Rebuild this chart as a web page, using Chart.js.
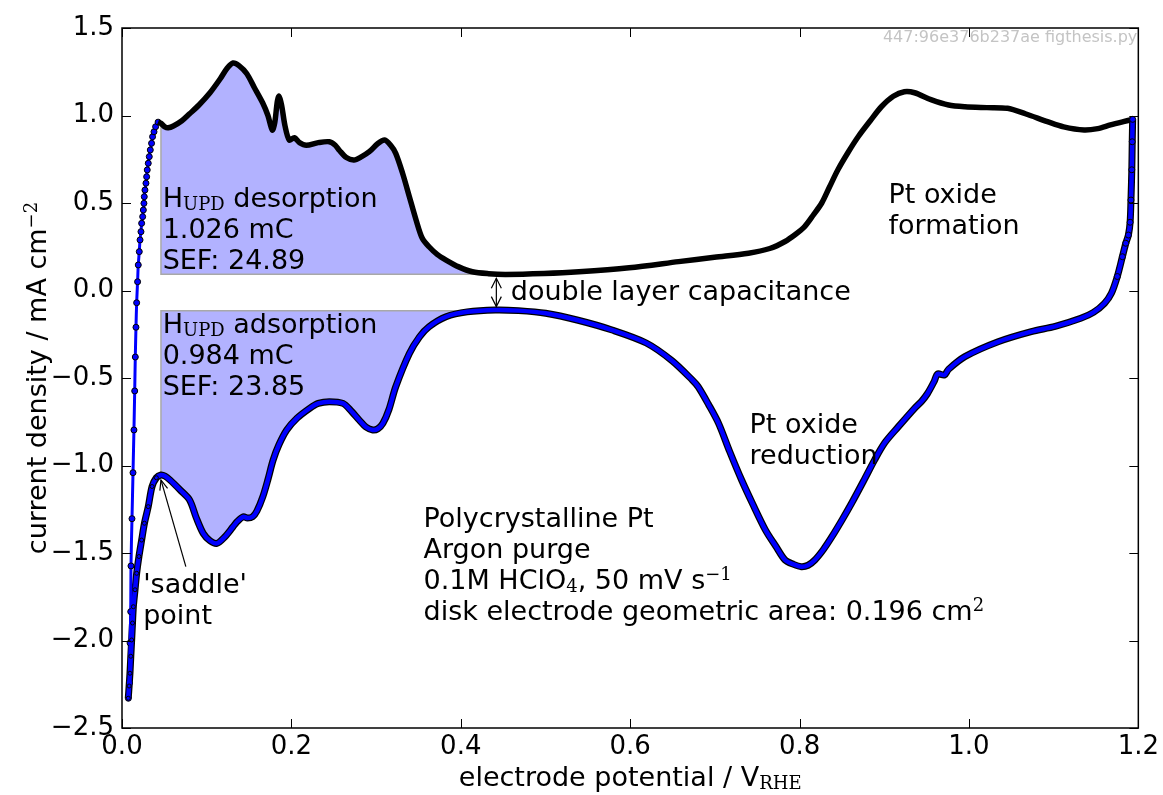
<!DOCTYPE html>
<html>
<head>
<meta charset="utf-8">
<script src="https://cdn.jsdelivr.net/npm/chart.js@4.4.0/dist/chart.umd.min.js"></script>
<style>
  html, body { margin: 0; padding: 0; background: #fff; }
</style>
</head>
<body>
<canvas id="cv" width="1163" height="795"></canvas>
<script>
// Pt CV, forward (anodic) sweep: potential / V_RHE and current density / mA cm^-2
const anodicE = [0.0075, 0.0087, 0.0095, 0.0103, 0.0106, 0.0118, 0.0130, 0.0141, 0.0150, 0.0157,
  0.0165, 0.0173, 0.0184, 0.0192, 0.0204, 0.0213, 0.0224, 0.0232, 0.0244, 0.0252,
  0.0259, 0.0263, 0.0271, 0.0283, 0.0291, 0.0298, 0.0310, 0.0322, 0.0334, 0.0349,
  0.0361, 0.0378, 0.0397, 0.0426,
  0.0460, 0.0506, 0.0546, 0.0607, 0.0707, 0.0798, 0.0909, 0.1039, 0.1160, 0.1241,
  0.1311, 0.1381, 0.1472, 0.1562, 0.1663, 0.1723, 0.1774, 0.1804, 0.1834, 0.1854,
  0.1884, 0.1925, 0.1975, 0.2035, 0.2096, 0.2176, 0.2317, 0.2448, 0.2518, 0.2568,
  0.2649, 0.2739, 0.2830, 0.2920, 0.3021, 0.3101, 0.3172, 0.3232, 0.3313, 0.3393,
  0.3474, 0.3544, 0.3625, 0.3725, 0.3826, 0.3976, 0.4137, 0.4329, 0.4530, 0.4982,
  0.5395, 0.5988, 0.6572, 0.6994, 0.7397, 0.7648, 0.7829, 0.7950, 0.8060, 0.8161,
  0.8262, 0.8352, 0.8453, 0.8574, 0.8694, 0.8835, 0.8966, 0.9107, 0.9237, 0.9358,
  0.9559, 0.9760, 0.9952, 1.0213, 1.0455, 1.0666, 1.0927, 1.1118, 1.1360, 1.1521,
  1.1671, 1.1823, 1.1933];
const anodicJ = [-2.33, -2.243, -2.014, -1.835, -1.574, -1.304, -1.041, -0.797, -0.574, -0.38,
  -0.21, -0.07, 0.05, 0.146, 0.222, 0.289, 0.336, 0.384, 0.422, 0.46,
  0.498, 0.536, 0.574, 0.613, 0.65, 0.689, 0.727, 0.765, 0.803, 0.841,
  0.879, 0.907, 0.936, 0.962,
  0.955, 0.935, 0.93, 0.94, 0.97, 1.01, 1.06, 1.13, 1.21, 1.27,
  1.30, 1.285, 1.24, 1.16, 1.07, 1.0, 0.917, 0.96, 1.08, 1.11,
  1.06, 0.94, 0.86, 0.873, 0.845, 0.83, 0.845, 0.85, 0.83, 0.80,
  0.76, 0.746, 0.765, 0.793, 0.84, 0.86, 0.83, 0.784, 0.67, 0.536,
  0.40, 0.30, 0.25, 0.205, 0.174, 0.135, 0.107, 0.096, 0.092, 0.097,
  0.107, 0.13, 0.165, 0.19, 0.213, 0.24, 0.28, 0.32, 0.365, 0.43,
  0.50, 0.59, 0.69, 0.79, 0.88, 0.97, 1.05, 1.11, 1.136, 1.13,
  1.089, 1.06, 1.05, 1.045, 1.041, 1.01, 0.965, 0.935, 0.917, 0.925,
  0.946, 0.965, 0.978];

// reverse (cathodic) sweep
const cathodicE = [1.1933, 1.1928, 1.1923, 1.1913, 1.1903, 1.1883, 1.1852, 1.1812, 1.1752, 1.1682,
  1.1601, 1.1470, 1.1320, 1.1018, 1.0736, 1.0344, 0.9952, 0.9760, 0.9710, 0.9630,
  0.9589, 0.9509, 0.9438, 0.9358, 0.9167, 0.9006, 0.8885, 0.8754, 0.8614, 0.8503,
  0.8382, 0.8282, 0.8181, 0.8101, 0.8020, 0.7930, 0.7829, 0.7718, 0.7598, 0.7447,
  0.7316, 0.7175, 0.7044, 0.6924, 0.6803, 0.6733, 0.6491, 0.6190, 0.5787, 0.5385,
  0.5002, 0.4681, 0.4409, 0.4077, 0.3826, 0.3625, 0.3514, 0.3393, 0.3232, 0.3152,
  0.3081, 0.3021, 0.2961, 0.2880, 0.2800, 0.2709, 0.2609, 0.2448, 0.2317, 0.2216,
  0.2065, 0.1945, 0.1854, 0.1784, 0.1723, 0.1663, 0.1593, 0.1542, 0.1482, 0.1432,
  0.1361, 0.1311, 0.1210, 0.1120, 0.1039, 0.0959, 0.0878, 0.0798, 0.0687, 0.0567,
  0.0506, 0.0460, 0.0406, 0.0355, 0.0310, 0.0265, 0.0232, 0.0200, 0.0173, 0.0154,
  0.0134, 0.0124, 0.0114, 0.0104, 0.0094, 0.0084, 0.0074];
const cathodicJ = [0.978, 0.85, 0.69, 0.517, 0.39, 0.317, 0.27, 0.193, 0.08, -0.016,
  -0.073, -0.125, -0.159, -0.205, -0.235, -0.293, -0.378, -0.45, -0.483, -0.477,
  -0.52, -0.59, -0.635, -0.673, -0.778, -0.87, -0.969, -1.09, -1.216, -1.31,
  -1.407, -1.48, -1.54, -1.57, -1.578, -1.565, -1.54, -1.46, -1.369, -1.22,
  -1.083, -0.92, -0.759, -0.65, -0.55, -0.511, -0.40, -0.30, -0.226, -0.17,
  -0.13, -0.115, -0.111, -0.122, -0.15, -0.207, -0.264, -0.36, -0.55, -0.68,
  -0.759, -0.79, -0.797, -0.78, -0.74, -0.69, -0.645, -0.635, -0.645, -0.673,
  -0.73, -0.797, -0.88, -0.969, -1.08, -1.178, -1.26, -1.293, -1.30, -1.293,
  -1.32, -1.35, -1.41, -1.445, -1.43, -1.388, -1.3, -1.197, -1.14, -1.083,
  -1.06, -1.054, -1.07, -1.12, -1.235, -1.33, -1.426, -1.52, -1.616, -1.71,
  -1.807, -1.90, -1.997, -2.09, -2.187, -2.26, -2.33];

const xTicks = [0.0, 0.2, 0.4, 0.6, 0.8, 1.0, 1.2];
const yTicks = [-2.5, -2.0, -1.5, -1.0, -0.5, 0.0, 0.5, 1.0, 1.5];

// H_UPD integration window
const hupdStart = 0.046;
const desorbBase = 0.093;
const desorbEnd = 0.453;
const adsorbBase = -0.115;
const adsorbEnd = 0.441;
const rampEnd = 0.0426;

const MAIN_FONT = '27px "DejaVu Sans"';
const SMALL_FONT = '18px "DejaVu Serif"';
const LINE_GAP = 31;
const CURVE_TENSION = 0.3;

// text blocks: [text, kind] parts per line, anchored at first baseline (data coords)
const notes = [
  { x: 0.048, y: 0.479, lines: [[['H', 'n'], ['UPD', 'sub'], [' desorption', 'n']], [['1.026 mC', 'n']], [['SEF: 24.89', 'n']]] },
  { x: 0.048, y: -0.245, lines: [[['H', 'n'], ['UPD', 'sub'], [' adsorption', 'n']], [['0.984 mC', 'n']], [['SEF: 23.85', 'n']]] },
  { x: 0.905, y: 0.498, lines: [[['Pt oxide', 'n']], [['formation', 'n']]] },
  { x: 0.741, y: -0.816, lines: [[['Pt oxide', 'n']], [['reduction', 'n']]] },
  { x: 0.459, y: -0.054, lines: [[['double layer capacitance', 'n']]] },
  { x: 0.025, y: -1.73, lines: [[["'saddle'", 'n']], [['point', 'n']]] },
  { x: 0.356, y: -1.351, lines: [
    [['Polycrystalline Pt', 'n']],
    [['Argon purge', 'n']],
    [['0.1M HClO', 'n'], ['4', 'sub'], [', 50 mV s', 'n'], ['\u22121', 'sup']],
    [['disk electrode geometric area: 0.196 cm', 'n'], ['2', 'sup']]] }
];
const xTitle = [['electrode potential / V', 'n'], ['RHE', 'sub']];
const yTitle = [['current density / mA cm', 'n'], ['\u22122', 'sup']];
const stamp = '447:96e376b237ae figthesis.py';

const toPts = (xs, ys) => xs.map((x, i) => ({ x: x, y: ys[i] }));
const anodic = toPts(anodicE, anodicJ);
const cathodic = toPts(cathodicE, cathodicJ);
const ramp = anodic.filter(p => p.x <= rampEnd);
const anodicMain = anodic.filter(p => p.x >= rampEnd);
const desorbArea = anodic.filter(p => p.x >= hupdStart && p.x <= desorbEnd);
const adsorbArea = cathodic.filter(p => p.x >= hupdStart && p.x <= adsorbEnd);
const desorbTop = anodic.find(p => p.x === hupdStart).y;
const saddleY = cathodic.find(p => p.x === hupdStart).y;

function fmtTick(v) {
  const s = Math.abs(v).toFixed(1);
  return v < 0 ? '\u2212' + s : s;
}

function partFont(k) { return k === 'n' ? MAIN_FONT : SMALL_FONT; }
function partShift(k) { return k === 'sub' ? 3 : (k === 'sup' ? -9 : 0); }

function richWidth(ctx, parts) {
  let w = 0;
  parts.forEach(([t, k]) => { ctx.font = partFont(k); w += ctx.measureText(t).width; });
  return w;
}

function drawRich(ctx, parts, x, y) {
  let cx = x;
  parts.forEach(([t, k]) => {
    ctx.font = partFont(k);
    ctx.fillText(t, cx, y + partShift(k));
    cx += ctx.measureText(t).width;
  });
}

function openHead(ctx, fx, fy, tx, ty, len, half) {
  const a = Math.atan2(ty - fy, tx - fx);
  const bx = tx - len * Math.cos(a), by = ty - len * Math.sin(a);
  const nx = -Math.sin(a) * half, ny = Math.cos(a) * half;
  ctx.beginPath();
  ctx.moveTo(bx + nx, by + ny);
  ctx.lineTo(tx, ty);
  ctx.lineTo(bx - nx, by - ny);
  ctx.stroke();
}

const cvDecor = {
  id: 'cvDecor',
  afterDatasetsDraw(chart) {
    const { ctx, scales: { x, y } } = chart;
    ctx.save();
    ctx.fillStyle = '#000';
    ctx.textBaseline = 'alphabetic';
    ctx.textAlign = 'left';
    notes.forEach(n => {
      const px = x.getPixelForValue(n.x);
      const py = y.getPixelForValue(n.y);
      n.lines.forEach((ln, i) => drawRich(ctx, ln, px, py + i * LINE_GAP));
    });

    ctx.strokeStyle = '#000';
    ctx.lineWidth = 1.2;
    // double layer arrow
    const ax = x.getPixelForValue(0.442);
    const ay0 = y.getPixelForValue(desorbBase) + 4;
    const ay1 = y.getPixelForValue(adsorbBase) - 4;
    ctx.beginPath();
    ctx.moveTo(ax, ay0);
    ctx.lineTo(ax, ay1);
    ctx.stroke();
    openHead(ctx, ax, ay1, ax, ay0, 10, 5);
    openHead(ctx, ax, ay0, ax, ay1, 10, 5);

    // saddle point arrow
    const sx0 = x.getPixelForValue(0.0754), sy0 = y.getPixelForValue(-1.578);
    const sx1 = x.getPixelForValue(hupdStart), sy1 = y.getPixelForValue(saddleY) + 5;
    ctx.beginPath();
    ctx.moveTo(sx0, sy0);
    ctx.lineTo(sx1, sy1);
    ctx.stroke();
    openHead(ctx, sx0, sy0, sx1, sy1, 10, 4);
    ctx.restore();
  },
  afterDraw(chart) {
    const { ctx, chartArea: a, scales: { x, y } } = chart;
    ctx.save();
    ctx.strokeStyle = '#000';
    // inward ticks on all four sides
    ctx.lineWidth = 1;
    ctx.beginPath();
    xTicks.forEach(v => {
      const p = Math.round(x.getPixelForValue(v)) + 0.5;
      ctx.moveTo(p, a.bottom); ctx.lineTo(p, a.bottom - 9);
      ctx.moveTo(p, a.top); ctx.lineTo(p, a.top + 9);
    });
    yTicks.forEach(v => {
      const p = Math.round(y.getPixelForValue(v)) + 0.5;
      ctx.moveTo(a.left, p); ctx.lineTo(a.left + 9, p);
      ctx.moveTo(a.right, p); ctx.lineTo(a.right - 9, p);
    });
    ctx.stroke();
    ctx.lineWidth = 1.5;
    ctx.strokeRect(a.left, a.top, a.right - a.left, a.bottom - a.top);

    // axis titles
    ctx.fillStyle = '#000';
    ctx.textAlign = 'left';
    ctx.textBaseline = 'alphabetic';
    const cx = (a.left + a.right) / 2;
    drawRich(ctx, xTitle, cx - richWidth(ctx, xTitle) / 2, 786);
    ctx.save();
    ctx.translate(46, (a.top + a.bottom) / 2);
    ctx.rotate(-Math.PI / 2);
    drawRich(ctx, yTitle, -richWidth(ctx, yTitle) / 2, 0);
    ctx.restore();

    // script stamp
    ctx.font = '16px "DejaVu Sans"';
    ctx.fillStyle = '#c4c4c4';
    ctx.textAlign = 'right';
    ctx.fillText(stamp, a.right - 1, a.top + 14);
    ctx.restore();
  }
};

const tickFont = { family: 'DejaVu Sans', size: 26 };

new Chart(document.getElementById('cv'), {
  type: 'scatter',
  data: {
    datasets: [
      {
        data: desorbArea, showLine: true, tension: CURVE_TENSION, borderWidth: 0, pointRadius: 0,
        backgroundColor: 'rgba(0, 0, 255, 0.3)', fill: { value: desorbBase }, order: 10
      },
      {
        data: adsorbArea, showLine: true, tension: CURVE_TENSION, borderWidth: 0, pointRadius: 0,
        backgroundColor: 'rgba(0, 0, 255, 0.3)', fill: { value: adsorbBase }, order: 10
      },
      {
        data: [{ x: hupdStart, y: desorbTop }, { x: hupdStart, y: desorbBase }, { x: desorbEnd, y: desorbBase }],
        showLine: true, borderColor: '#a8a8a8', borderWidth: 1.5, pointRadius: 0, order: 9
      },
      {
        data: [{ x: hupdStart, y: saddleY }, { x: hupdStart, y: adsorbBase }, { x: adsorbEnd, y: adsorbBase }],
        showLine: true, borderColor: '#a8a8a8', borderWidth: 1.5, pointRadius: 0, order: 9
      },
      {
        // dark edge under the reverse sweep
        data: cathodic, showLine: true, tension: CURVE_TENSION, borderColor: '#000', borderWidth: 7,
        pointRadius: 0, order: 6
      },
      {
        data: cathodic, showLine: true, tension: CURVE_TENSION, borderColor: '#0000ff', borderWidth: 4.5,
        pointRadius: ctx => {
          const px = ctx.raw ? ctx.raw.x : 0.5;
          return px > 1.17 ? 3 : (px < 0.045 ? 2 : 0);
        },
        pointBackgroundColor: '#0000ff', pointBorderColor: '#000', pointBorderWidth: 1, order: 0
      },
      {
        data: ramp, showLine: true, tension: CURVE_TENSION, borderColor: '#0000ff', borderWidth: 3,
        pointRadius: 3, pointBackgroundColor: '#0000ff', pointBorderColor: '#000', pointBorderWidth: 1, order: 2
      },
      {
        data: anodicMain, showLine: true, tension: CURVE_TENSION, borderColor: '#000', borderWidth: 5.5,
        pointRadius: 0, order: 1
      }
    ]
  },
  options: {
    responsive: false,
    animation: false,
    devicePixelRatio: 1,
    layout: { padding: { top: 28, right: 22, left: 0, bottom: 0 } },
    plugins: { legend: { display: false }, tooltip: { enabled: false } },
    scales: {
      x: {
        type: 'linear', min: 0, max: 1.2,
        afterBuildTicks: s => { s.ticks = xTicks.map(v => ({ value: v })); },
        afterFit: s => { s.height = 67; },
        grid: { display: false, drawTicks: false },
        border: { display: false },
        ticks: { font: tickFont, color: '#000', padding: 4, maxRotation: 0, callback: v => fmtTick(v) }
      },
      y: {
        type: 'linear', min: -2.5, max: 1.5,
        afterBuildTicks: s => { s.ticks = yTicks.map(v => ({ value: v })); },
        afterFit: s => { s.width = 122; },
        grid: { display: false, drawTicks: false },
        border: { display: false },
        ticks: { font: tickFont, color: '#000', padding: 8, callback: v => fmtTick(v) }
      }
    }
  },
  plugins: [cvDecor]
});
</script>
</body>
</html>
